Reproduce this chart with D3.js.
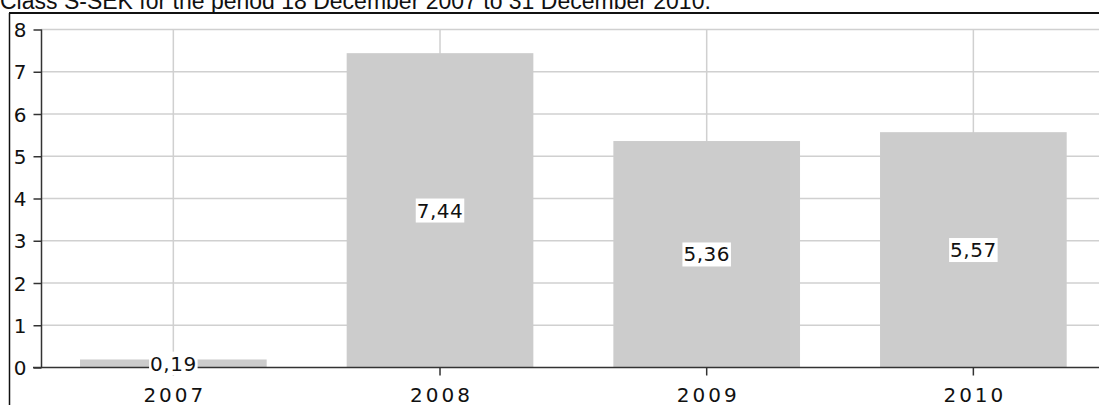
<!DOCTYPE html>
<html>
<head>
<meta charset="utf-8">
<script src="https://d3js.org/d3.v7.min.js"></script>
<style>
  body { margin: 0; background: #fff; overflow: hidden; }
  svg text { font-family: "DejaVu Sans", Verdana, sans-serif; fill: #111; }
  .title { font-family: "Liberation Sans", Arial, sans-serif; font-size: 23px; }
  .tick-y { font-size: 20px; text-anchor: end; }
  .tick-x { font-size: 20px; text-anchor: middle; letter-spacing: 3px; }
  .val { font-size: 20px; text-anchor: middle; letter-spacing: 0.5px; }
</style>
</head>
<body>
<svg id="chart" width="1099" height="405"></svg>
<script>
// values
const years  = ['2007', '2008', '2009', '2010'];
const values = [0.19, 7.44, 5.36, 5.57];
const labels = ['0,19', '7,44', '5,36', '5,57'];
const yTicks = [0, 1, 2, 3, 4, 5, 6, 7, 8];
const title  = 'Class S-SEK for the period 18 December 2007 to 31 December 2010.';

const svg = d3.select('#chart');

const x = d3.scaleBand()
  .domain(years)
  .range([40, 1106.7])
  .paddingInner(0.3)
  .paddingOuter(0.15);

const y = d3.scaleLinear()
  .domain([0, 8])
  .range([367.5, 29.5]);

const gridColor = '#d0d0d0';

// title (top part is cut off in the original)
svg.append('text')
  .attr('class', 'title')
  .attr('x', 0)
  .attr('y', 9)
  .text(title);

// frame of the box
svg.append('line').attr('x1', 9).attr('x2', 1099).attr('y1', 13).attr('y2', 13)
  .attr('stroke', '#111').attr('stroke-width', 2);
svg.append('line').attr('x1', 9.5).attr('x2', 9.5).attr('y1', 13).attr('y2', 405)
  .attr('stroke', '#111').attr('stroke-width', 1.5);

// horizontal grid
svg.append('g').selectAll('line')
  .data(yTicks.filter(d => d > 0))
  .enter().append('line')
  .attr('x1', 41).attr('x2', 1099)
  .attr('y1', d => y(d)).attr('y2', d => y(d))
  .attr('stroke', gridColor).attr('stroke-width', 1.5);

// vertical grid at category centres
svg.append('g').selectAll('line')
  .data(years)
  .enter().append('line')
  .attr('x1', d => x(d) + x.bandwidth() / 2)
  .attr('x2', d => x(d) + x.bandwidth() / 2)
  .attr('y1', y(8)).attr('y2', y(0))
  .attr('stroke', gridColor).attr('stroke-width', 1.5);

// bars
svg.append('g').selectAll('rect')
  .data(years)
  .enter().append('rect')
  .attr('x', d => x(d))
  .attr('width', x.bandwidth())
  .attr('y', (d, i) => y(values[i]))
  .attr('height', (d, i) => y(0) - y(values[i]))
  .attr('fill', '#cccccc');

// y axis
const yAxis = svg.append('g')
  .attr('transform', 'translate(41.5,0)')
  .call(d3.axisLeft(y).tickValues(yTicks).tickSize(8).tickFormat(d3.format('d')));
yAxis.select('.domain').attr('stroke', '#333').attr('stroke-width', 1.5).attr('d', `M0,${y(8)}V${y(0)}`);
yAxis.selectAll('.tick line').attr('stroke', '#333').attr('stroke-width', 1.5);
yAxis.selectAll('.tick text').attr('class', 'tick-y').attr('x', -15).attr('dy', '0.36em')
  .attr('font-size', null).attr('font-family', null);

// x axis
const xAxis = svg.append('g')
  .attr('transform', `translate(0,${y(0)})`)
  .call(d3.axisBottom(x).tickSize(8).tickSizeOuter(0));
xAxis.select('.domain').attr('stroke', '#333').attr('stroke-width', 1.5).attr('d', 'M33,0H1099');
xAxis.selectAll('.tick line').attr('stroke', '#333').attr('stroke-width', 1.5);
xAxis.selectAll('.tick text').attr('class', 'tick-x').attr('y', 34).attr('dy', 0).attr('dx', 1.5)
  .attr('font-size', null).attr('font-family', null);

// value labels with white boxes, centred in each bar
const lab = svg.append('g').selectAll('g')
  .data(years)
  .enter().append('g')
  .attr('transform', (d, i) => `translate(${x(d) + x.bandwidth() / 2},${(y(values[i]) + y(0)) / 2})`);

lab.append('text')
  .attr('class', 'val')
  .attr('dy', '0.36em')
  .text((d, i) => labels[i]);

lab.each(function () {
  const g = d3.select(this);
  const b = g.select('text').node().getBBox();
  g.insert('rect', 'text')
    .attr('x', b.x - 1).attr('y', b.y)
    .attr('width', b.width + 2).attr('height', b.height)
    .attr('fill', '#fff');
});
</script>
</body>
</html>
